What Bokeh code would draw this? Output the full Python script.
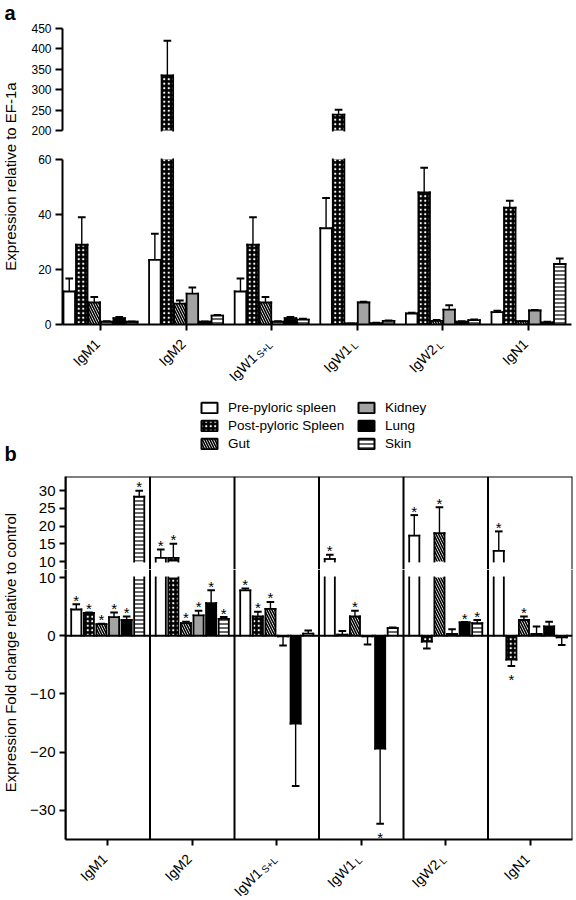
import numpy as np
from bokeh.plotting import figure
from bokeh.models import (ColumnDataSource, FixedTicker, Span, Label,
                          Legend, LegendItem, Range1d)
from bokeh.core.properties import value
from bokeh.layouts import column, row
from bokeh.embed import file_html
from bokeh.resources import INLINE

FONT = "Liberation Sans"

# ---------------- data ----------------
genes = ["IgM1", "IgM2", "IgW1", "IgW1", "IgW2", "IgN1"]
gene_subscripts = ["", "", "S+L", "L", "L", ""]
tissues = ["Pre-pyloric spleen", "Post-pyloric Spleen", "Gut", "Kidney", "Lung", "Skin"]

# panel a: expression relative to EF-1a (one list per tissue, across genes)
a_pre = [12.0, 23.5, 12.0, 35.0, 4.0, 4.5]
a_pre_err = [4.7, 9.5, 4.7, 11.0, 0.3, 0.5]
a_post = [29.0, 335.0, 29.0, 239.0, 48.0, 42.5]
a_post_err = [10.0, 85.0, 10.0, 12.0, 9.0, 2.5]
a_gut = [8.0, 7.6, 8.0, 0.4, 1.3, 1.2]
a_gut_err = [2.0, 1.1, 2.0, 0.0, 0.3, 0.0]
a_kidney = [1.0, 11.2, 1.0, 8.0, 5.4, 5.1]
a_kidney_err = [0.2, 2.3, 0.2, 0.3, 1.6, 0.2]
a_lung = [2.3, 1.0, 2.3, 0.5, 1.0, 0.8]
a_lung_err = [0.4, 0.1, 0.4, 0.1, 0.2, 0.2]
a_skin = [1.0, 3.2, 1.8, 1.3, 1.6, 22.0]
a_skin_err = [0.1, 0.3, 0.3, 0.2, 0.2, 2.0]

# panel b: fold change relative to control
b_pre = [4.5, 11.0, 7.8, 10.7, 17.3, 13.0]
b_pre_err = [0.9, 2.4, 0.3, 1.2, 5.8, 5.5]
b_post = [3.9, 11.0, 3.3, 0.2, -1.0, -4.1]
b_post_err = [0.1, 4.0, 0.8, 0.6, 1.2, 1.1]
b_gut = [2.0, 2.15, 4.6, 3.3, 18.0, 2.7]
b_gut_err = [0.05, 0.25, 1.2, 1.0, 7.3, 0.6]
b_kidney = [3.2, 3.5, -0.1, -0.1, 0.3, 0.3]
b_kidney_err = [0.8, 0.8, 1.6, 1.4, 0.8, 1.3]
b_lung = [2.7, 5.6, -15.1, -19.4, 2.3, 1.6]
b_lung_err = [0.6, 2.2, 10.7, 12.9, 0.05, 0.8]
b_skin = [28.3, 2.9, 0.35, 1.3, 2.15, -0.3]
b_skin_err = [1.7, 0.3, 0.55, 0.1, 0.55, 1.3]

b_star_pre = [1, 1, 1, 1, 1, 1]
b_star_post = [1, 1, 1, 0, 0, 1]
b_star_gut = [1, 1, 1, 1, 1, 1]
b_star_kidney = [1, 1, 0, 0, 0, 0]
b_star_lung = [1, 1, 0, 1, 1, 0]
b_star_skin = [1, 1, 0, 0, 1, 0]

a_ticks_upper = [200, 250, 300, 350, 400, 450]
a_ticks_lower = [0, 20, 40, 60]
b_ticks_upper = [10, 15, 20, 25, 30]
b_ticks_lower = [-30, -20, -10, 0, 10]

a_vals = [a_pre, a_post, a_gut, a_kidney, a_lung, a_skin]
a_errs = [a_pre_err, a_post_err, a_gut_err, a_kidney_err, a_lung_err, a_skin_err]
b_vals = [b_pre, b_post, b_gut, b_kidney, b_lung, b_skin]
b_errs = [b_pre_err, b_post_err, b_gut_err, b_kidney_err, b_lung_err, b_skin_err]
b_stars = [b_star_pre, b_star_post, b_star_gut, b_star_kidney, b_star_lung, b_star_skin]
no_stars = [[0] * 6 for _ in range(6)]

# ---------------- styles ----------------
styles = [
    dict(fill_color="white"),
    dict(fill_color="black", hatch_pattern="dot", hatch_color="white",
         hatch_scale=4.5, hatch_weight=2),
    dict(fill_color="white", hatch_pattern="left_diagonal_line", hatch_color="black",
         hatch_scale=5, hatch_weight=1.6),
    dict(fill_color="#a3a3a3"),
    dict(fill_color="black"),
    dict(fill_color="white", hatch_pattern="horizontal_line", hatch_color="black",
         hatch_scale=4, hatch_weight=1.2),
]


def base_fig(w, h, xr, yr, left, right, top, bottom, xaxis=True, yaxis=True):
    p = figure(width=w, height=h, x_range=xr, y_range=yr,
               toolbar_location=None, output_backend="svg",
               x_axis_location="below" if xaxis else None,
               y_axis_location="left" if yaxis else None,
               min_border_left=left, min_border_right=right,
               min_border_top=top, min_border_bottom=bottom,
               outline_line_color=None, background_fill_color="white",
               border_fill_color="white")
    p.grid.visible = False
    return p


def style_axis(ax, fs, tick_out=7):
    ax.axis_line_width = 2
    ax.axis_line_color = "black"
    ax.major_tick_line_width = 2
    ax.major_tick_line_color = "black"
    ax.major_tick_out = tick_out
    ax.major_tick_in = 0
    ax.minor_tick_line_color = None
    ax.major_label_text_font = FONT
    ax.major_label_text_font_size = fs
    ax.major_label_text_color = "black"
    ax.major_label_standoff = 4


def hide_labels(ax):
    ax.major_label_overrides = {i: "" for i in range(6)}
    ax.major_label_text_font_size = "0px"
    ax.major_label_standoff = 0


def draw_bars(p, vals, errs, stars, pitch, width, lo_break, hi_break, part,
              cap_hw, star_fs, px_per_unit):
    for j in range(6):
        v = np.array(vals[j], dtype=float)
        e = np.array(errs[j], dtype=float)
        s = np.array(stars[j], dtype=bool)
        x = np.arange(6) + (j - 2.5) * pitch
        if part == "lower":
            sel = np.ones(6, dtype=bool)
            bottom = np.zeros(6)
            top = np.minimum(v, lo_break)
            closed = v <= lo_break
        else:
            sel = v > lo_break
            bottom = np.full(6, float(hi_break))
            top = v.copy()
            closed = sel.copy()
        xs = x[sel]
        p.vbar(x=xs, width=width, bottom=bottom[sel], top=top[sel],
               line_color=None, **styles[j])
        for side in (-1, 1):
            p.segment(x0=xs + side * width / 2, y0=bottom[sel],
                      x1=xs + side * width / 2, y1=top[sel],
                      line_color="black", line_width=1.8, line_cap="square")
        c = closed
        p.segment(x0=x[c] - width / 2, y0=v[c], x1=x[c] + width / 2, y1=v[c],
                  line_color="black", line_width=1.8, line_cap="square")
        tip = np.where(v >= 0, v + e, v - e)
        p.segment(x0=x[c], y0=v[c], x1=x[c], y1=tip[c],
                  line_color="black", line_width=1.4)
        p.segment(x0=x[c] - cap_hw, y0=tip[c], x1=x[c] + cap_hw, y1=tip[c],
                  line_color="black", line_width=2)
        pos = c & s & (v >= 0)
        neg = c & s & (v < 0)
        if pos.any():
            p.text(x=x[pos], y=tip[pos] + 4.0 / px_per_unit, text=["*"] * int(pos.sum()),
                   text_align="center", text_baseline="alphabetic",
                   text_font=value(FONT), text_font_size=star_fs, text_color="black")
        if neg.any():
            p.text(x=x[neg], y=tip[neg] - 5.0 / px_per_unit, text=["*"] * int(neg.sum()),
                   text_align="center", text_baseline="top",
                   text_font=value(FONT), text_font_size=star_fs, text_color="black")


CHAR_W = {"S": 0.667, "+": 0.584, "L": 0.556}


def add_xlabels(p, yanchor, fs, sub_fs, x_off):
    sub_px = np.array([sum(CHAR_W.get(ch, 0.55) for ch in t) * sub_fs for t in gene_subscripts])
    shift = np.where(sub_px > 0, sub_px + 2, 0.0)
    src = ColumnDataSource(dict(x=np.arange(6), y=yanchor - 0.707 * shift, t=genes,
                                xo=x_off - 0.707 * shift))
    p.text(x="x", y="y", text="t", x_offset="xo", source=src, angle=np.pi / 4,
           text_align="right", text_baseline="middle", text_font=value(FONT),
           text_font_size="%dpx" % fs, text_color="black")
    has = sub_px > 0
    drop = 3.0
    n = int(has.sum())
    src2 = ColumnDataSource(dict(x=np.arange(6)[has], y=np.full(n, yanchor - 0.707 * drop),
                                 t=[t for t in gene_subscripts if t],
                                 xo=np.full(n, x_off + 0.707 * drop)))
    p.text(x="x", y="y", text="t", x_offset="xo", source=src2, angle=np.pi / 4,
           text_align="right", text_baseline="middle", text_font=value(FONT),
           text_font_size="%dpx" % sub_fs, text_color="black")


def blank_fig(w, h, xr, yr, left=0, right=0, top=0):
    p = figure(width=w, height=h, x_range=xr, y_range=yr, toolbar_location=None,
               output_backend="svg", min_border_left=left, min_border_right=right,
               min_border_top=top, min_border_bottom=0,
               x_axis_location=None, y_axis_location=None, outline_line_color=None)
    p.grid.visible = False
    return p


LAB_W = 22
FIG_W = 576 - LAB_W

# ---------------- panel a ----------------
a_xr = Range1d(-0.444, 5.502)
a_top_ppu = 102.0 / 250.0
a_bot_ppu = 165.0 / 60.0
a_top = base_fig(FIG_W, 144, a_xr, Range1d(200 - 14 / a_top_ppu, 450), 40, 5, 28, 0, xaxis=False)
a_bot = base_fig(FIG_W, 188, a_xr, Range1d(0, 60 + 15 / a_bot_ppu), 40, 5, 0, 8)
for p_, ticks in ((a_top, a_ticks_upper), (a_bot, a_ticks_lower)):
    style_axis(p_.yaxis[0], "12px", tick_out=7)
    p_.yaxis[0].ticker = FixedTicker(ticks=ticks)
    p_.yaxis[0].bounds = (min(ticks), max(ticks))
style_axis(a_bot.xaxis[0], "12px", tick_out=6)
a_bot.xaxis[0].ticker = FixedTicker(ticks=list(range(6)))
hide_labels(a_bot.xaxis[0])

draw_bars(a_top, a_vals, a_errs, no_stars, 0.146, 0.135, 60, 200, "upper", 0.045, "15px", a_top_ppu)
draw_bars(a_bot, a_vals, a_errs, no_stars, 0.146, 0.135, 60, 200, "lower", 0.045, "15px", a_bot_ppu)

a_xlab = blank_fig(FIG_W, 66, a_xr, Range1d(0, 66), 40, 5)
add_xlabels(a_xlab, 57, 14, 10, -3)

lab_a = blank_fig(LAB_W, 398, Range1d(0, LAB_W), Range1d(0, 398))
lab_a.add_layout(Label(x=10, y=222, text="Expression relative to EF-1a", angle=np.pi / 2,
                       text_align="center", text_baseline="middle", text_font=FONT,
                       text_font_size="15px", text_color="black"))
lab_a.add_layout(Label(x=4, y=386, text="a", text_align="left", text_baseline="middle",
                       text_font=FONT, text_font_size="20px", text_font_style="bold",
                       text_color="black"))

# ---------------- legend ----------------
LEG_H = 72
leg_left = blank_fig(199, LEG_H, Range1d(0, 199), Range1d(0, LEG_H))
leg_left.add_layout(Label(x=4, y=17, text="b", text_align="left", text_baseline="middle",
                          text_font=FONT, text_font_size="20px", text_font_style="bold",
                          text_color="black"))
leg_right = blank_fig(577 - 199, LEG_H, Range1d(0, 377), Range1d(0, LEG_H), top=2)
dummies = [leg_right.vbar(x=[np.nan], top=[np.nan], width=1, line_color="black",
                          line_width=2, **styles[j]) for j in range(6)]
legend = Legend(items=[LegendItem(label=tissues[j], renderers=[dummies[j]]) for j in range(6)],
                location="top_left", orientation="vertical", nrows=3, ncols=2,
                glyph_width=20, glyph_height=13, label_height=13, label_width=125,
                label_standoff=9, spacing=3, padding=0, margin=0,
                border_line_color=None, background_fill_alpha=0,
                label_text_font=FONT, label_text_font_size="13.5px",
                label_text_color="black")
leg_right.add_layout(legend)

# ---------------- panel b ----------------
b_xr = Range1d(-0.5, 5.5)
b_up_ppu = 85.0 / 24.0
b_lo_ppu = 262.0 / 45.0
b_top = base_fig(FIG_W, 99, b_xr, Range1d(10 - 8 / b_up_ppu, 34), 43, 4, 6, 0, xaxis=False)
b_bot = base_fig(FIG_W, 278, b_xr, Range1d(-35, 10 + 8 / b_lo_ppu), 43, 4, 0, 8)
for p_, ticks in ((b_top, b_ticks_upper), (b_bot, b_ticks_lower)):
    style_axis(p_.yaxis[0], "15px", tick_out=6)
    p_.yaxis[0].ticker = FixedTicker(ticks=ticks)
style_axis(b_bot.xaxis[0], "12px", tick_out=6)
b_bot.xaxis[0].ticker = FixedTicker(ticks=list(range(6)))
hide_labels(b_bot.xaxis[0])

for p_ in (b_top, b_bot):
    for k in range(7):
        p_.add_layout(Span(location=k - 0.5, dimension="height", line_color="black",
                           line_width=2))
b_top.add_layout(Span(location=34, dimension="width", line_color="black", line_width=2))
b_bot.add_layout(Span(location=0, dimension="width", line_color="black", line_width=2))

draw_bars(b_top, b_vals, b_errs, b_stars, 0.149, 0.12, 10, 10, "upper", 0.045, "15px", b_up_ppu)
draw_bars(b_bot, b_vals, b_errs, b_stars, 0.149, 0.12, 10, 10, "lower", 0.045, "15px", b_lo_ppu)

b_xlab = blank_fig(FIG_W, 52, b_xr, Range1d(0, 52), 43, 4)
add_xlabels(b_xlab, 43, 14, 10, -3)

lab_b = blank_fig(LAB_W, 429, Range1d(0, LAB_W), Range1d(0, 429))
lab_b.add_layout(Label(x=10, y=247, text="Expression Fold change relative to control",
                       angle=np.pi / 2, text_align="center", text_baseline="middle",
                       text_font=FONT, text_font_size="15px", text_color="black"))

layout = column(row(lab_a, column(a_top, a_bot, a_xlab)),
                row(leg_left, leg_right),
                row(lab_b, column(b_top, b_bot, b_xlab)))

open("out.html", "w").write(file_html(layout, INLINE))
